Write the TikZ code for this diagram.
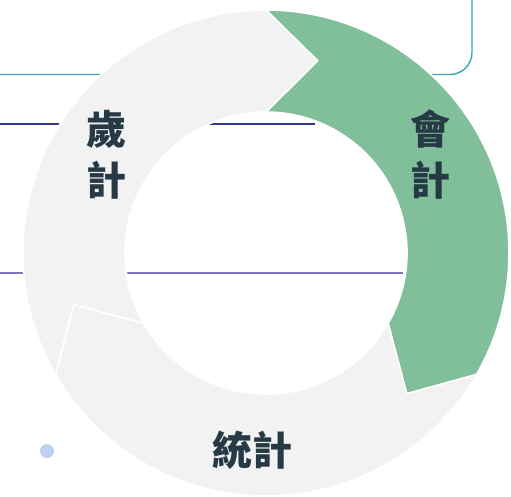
\documentclass[tikz,border=0pt]{standalone}
\usepackage{fontspec}
\newfontfamily\cjk{Noto Sans CJK TC}
\definecolor{ringgray}{HTML}{F2F2F2}
\definecolor{ringgreen}{HTML}{80BF99}
\definecolor{txt}{HTML}{263A45}
\definecolor{teal}{HTML}{3AA5B4}
\definecolor{navy}{HTML}{35358F}
\definecolor{lilac}{HTML}{7A74BC}
\definecolor{dotblue}{HTML}{BDD0F1}
\tikzset{
  seg/.style={draw=white, line width=1.6pt, line join=miter},
  lbl/.style={font=\cjk\bfseries\fontsize{40}{48}\selectfont, text=txt, inner sep=0pt},
}
\begin{document}
\begin{tikzpicture}[x=1pt,y=1pt]
\useasboundingbox (0,0) rectangle (511,-496);
% background lines
\draw[teal, line width=1.4pt] (-5,-74.5) -- (450,-74.5) arc[start angle=-90, end angle=0, radius=22] -- (472,5);
\draw[navy, line width=1.5pt] (-5,-124) -- (315,-124);
\draw[lilac, line width=1.5pt] (-5,-273) -- (403,-273);
\fill[dotblue] (47,-451) circle[radius=7];
% ring
\begin{scope}[shift={(266,-253)}]
  % green: 90 -> -30
  \path[seg, fill=ringgreen] (90:243) arc[start angle=90, end angle=-30, radius=243]
     -- (-45:199) -- (-30:141) arc[start angle=-30, end angle=90, radius=141]
     -- (75:199) -- cycle;
  % bottom gray: 330 -> 210
  \path[seg, fill=ringgray] (330:243) arc[start angle=330, end angle=210, radius=243]
     -- (195:199) -- (210:141) arc[start angle=210, end angle=330, radius=141]
     -- (315:199) -- cycle;
  % left gray: 210 -> 90
  \path[seg, fill=ringgray] (210:243) arc[start angle=210, end angle=90, radius=243]
     -- (75:199) -- (90:141) arc[start angle=90, end angle=210, radius=141]
     -- (195:199) -- cycle;
\end{scope}
% labels
\node[lbl] (sui) at (106,-129) {歲};
\node[lbl] (suiji) at (106,-180) {計};
\node[lbl] (hui) at (430,-129) {會};
\node[lbl] (huiji) at (430,-180) {計};
\node[lbl] (tongji) at (252.5,-450) {統計};
\end{tikzpicture}
\end{document}
